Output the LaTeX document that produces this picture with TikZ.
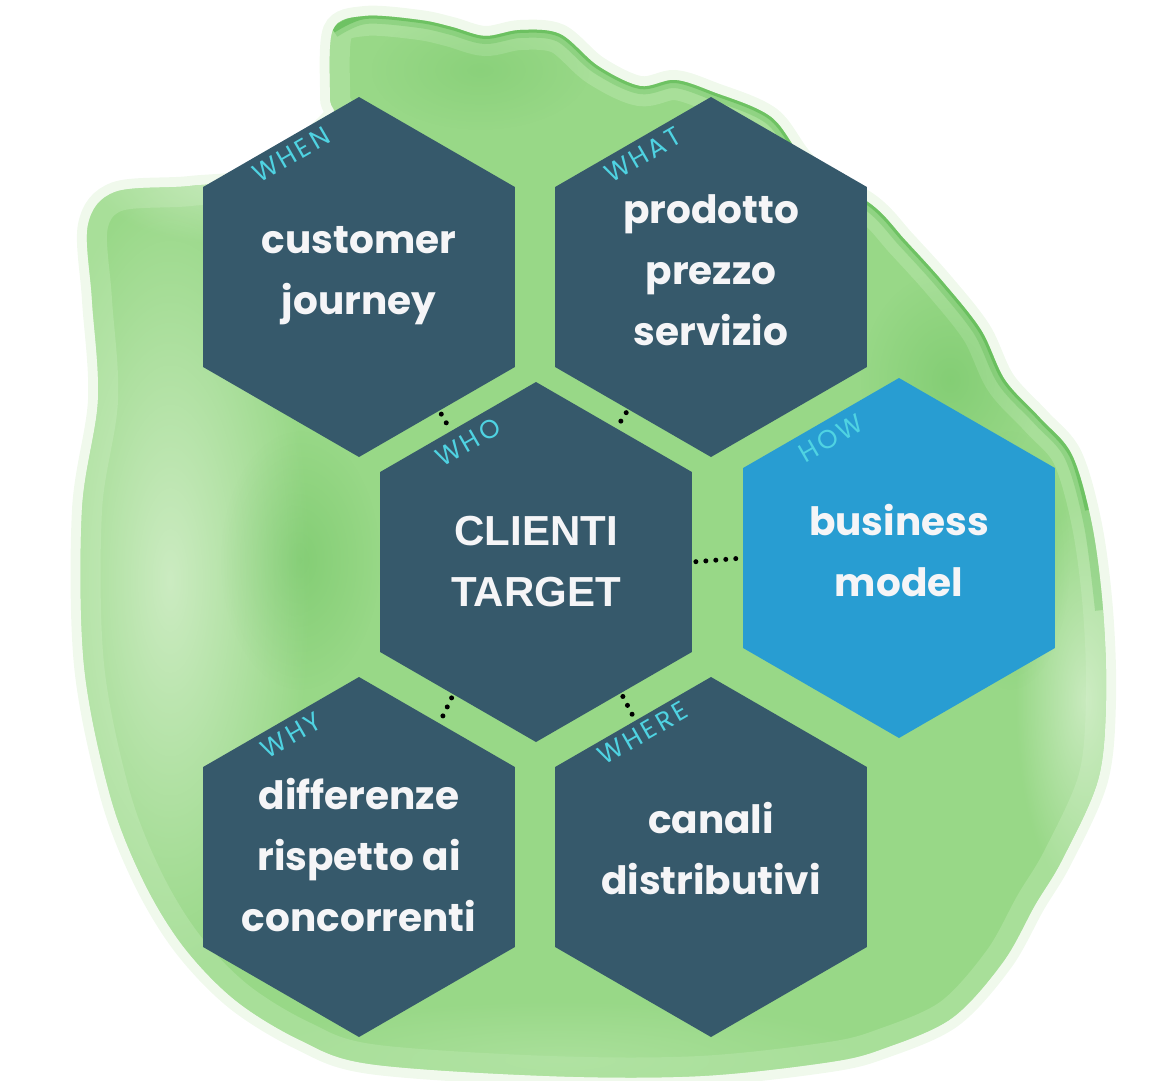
\documentclass[tikz,border=0pt]{standalone}
\usepackage{fontspec}
\usetikzlibrary{shapes.geometric,fadings}
\setmainfont{Poppins}
\newfontfamily\capsfont{Liberation Sans}[BoldFont={Liberation Sans Bold}]
\newfontfamily\lblfont{Poppins}[LetterSpace=12]
\definecolor{hexdark}{HTML}{36596B}
\definecolor{hexblue}{HTML}{289DD2}
\definecolor{lblcyan}{HTML}{4FD3E2}
\definecolor{txtwhite}{HTML}{F5F5F7}
\definecolor{greenmain}{HTML}{98D887}
\definecolor{greenlight}{HTML}{B6E5A8}
\definecolor{greenpale}{HTML}{DDF2D5}
\definecolor{greendark}{HTML}{3DAA35}
\tikzfading[name=softspot,inner color=transparent!0,outer color=transparent!100]
\begin{document}
\begin{tikzpicture}[x=1pt,y=-1pt,
  hexa/.style={regular polygon,regular polygon sides=6,shape border rotate=30,
    minimum size=360pt,inner sep=0pt,outer sep=0pt,fill=hexdark},
  hextxt/.style={text=txtwhite,align=center,font=\fontsize{39}{61}\selectfont\bfseries},
  lbl/.style={rotate=30,text=lblcyan,font=\lblfont\fontsize{26}{26}\selectfont},
  dots/.style={line width=5pt,line cap=round,dash pattern=on 0pt off 10pt,
    shorten <=4pt,shorten >=4pt},
  spot/.style={path fading=softspot}]
\useasboundingbox (0,0) rectangle (1159,1080);

% watercolour patch behind the hexagons
\path[save path=\blob] plot[smooth cycle,tension=0.55] coordinates {
  (333,30) (365,16) (420,20) (452,27) (485,36) (520,30) (560,34) (598,66)
  (640,86) (675,80) (713,92) (771,117) (809,165) (872,205) (905,240) (943,282)
  (981,330) (1005,380) (1040,418) (1072,455) (1092,525) (1103,610) (1106,700)
  (1098,780) (1062,860) (1035,905) (1003,962) (952,1018) (885,1048) (830,1062)
  (700,1076) (550,1076) (370,1064) (300,1040) (235,1000) (183,946) (143,880)
  (110,795) (84,665) (82,510) (98,400) (92,300) (88,225) (115,192) (190,186)
  (260,175) (330,120) (330,97)};
\draw[use path=\blob,greenpale,line width=20pt,opacity=0.45];
\fill[use path=\blob,greenmain];
\begin{scope}
  \clip[use path=\blob];
  % soft pale washes
  \draw[use path=\blob,greenlight,line width=40pt,opacity=0.55];
  \fill[greenpale,spot,opacity=0.75] (170,580) ellipse (140 and 400);
  \fill[greenpale,spot,opacity=0.7] (1085,700) ellipse (70 and 200);
  \fill[greenpale,spot,opacity=0.6] (230,175) ellipse (140 and 70);
  \fill[greenlight,spot,opacity=0.6] (560,1060) ellipse (330 and 60);
  % darker washes
  \fill[greendark,spot,opacity=0.22] (300,560) ellipse (80 and 130);
  \fill[greendark,spot,opacity=0.22] (950,380) ellipse (90 and 110);
  \fill[greendark,spot,opacity=0.2] (1010,560) ellipse (60 and 130);
  \fill[greendark,spot,opacity=0.15] (480,70) ellipse (110 and 60);
  % darker rim on the top and right
  \draw[greendark,line width=16pt,opacity=0.22] plot[smooth,tension=0.55] coordinates {
    (333,30) (365,16) (420,20) (452,27) (485,36) (520,30) (560,34) (598,66)
    (640,86) (675,80) (713,92) (771,117) (809,165) (872,205) (905,240) (943,282)
    (981,330) (1005,380) (1040,418) (1072,455) (1092,525) (1103,610)};
  \draw[greendark,line width=6pt,opacity=0.4] plot[smooth,tension=0.55] coordinates {
    (333,30) (365,16) (420,20) (452,27) (485,36) (520,30) (560,34) (598,66)
    (640,86) (675,80) (713,92) (771,117) (809,165) (872,205) (905,240) (943,282)
    (981,330) (1005,380) (1040,418) (1072,455) (1088,510)};
\end{scope}

% hexagons
\node[hexa] (when) at (359,277) {};
\node[hexa] (what) at (711,277) {};
\node[hexa] (who) at (536,562) {};
\node[hexa,fill=hexblue] (how) at (899,558) {};
\node[hexa] (why) at (359,857) {};
\node[hexa] (where) at (711,857) {};

% texts
\node[hextxt] at ([yshift=1pt]when.center) {customer\\journey};
\node[hextxt] at ([yshift=7pt]what.center) {prodotto\\prezzo\\servizio};
\node[hextxt,font=\capsfont\fontsize{42}{61}\selectfont\bfseries] at (who.center) {CLIENTI\\TARGET};
\node[hextxt] at ([yshift=7pt]how.center) {business\\model};
\node[hextxt] at ([yshift=2pt]why.center) {differenze\\rispetto ai\\concorrenti};
\node[hextxt] at ([yshift=8pt]where.center) {canali\\distributivi};

% labels along the upper-left sides
\node[lbl] at ([shift={(-68,-122)}]when.center) {WHEN};
\node[lbl] at ([shift={(-68,-122)}]what.center) {WHAT};
\node[lbl] at ([shift={(-68,-120)}]who.center) {WHO};
\node[lbl] at ([shift={(-68,-120)}]how.center) {HOW};
\node[lbl] at ([shift={(-68,-122)}]why.center) {WHY};
\node[lbl] at ([shift={(-68,-124)}]where.center) {WHERE};

% dotted links
\draw[dots] (when.-59) -- (who.123);
\draw[dots] (what.-122) -- (who.59);
\draw[dots] (who.0) -- (how.180);
\draw[dots] (who.-122) -- (why.59);
\draw[dots] (who.-57) -- (where.119);
\end{tikzpicture}
\end{document}
